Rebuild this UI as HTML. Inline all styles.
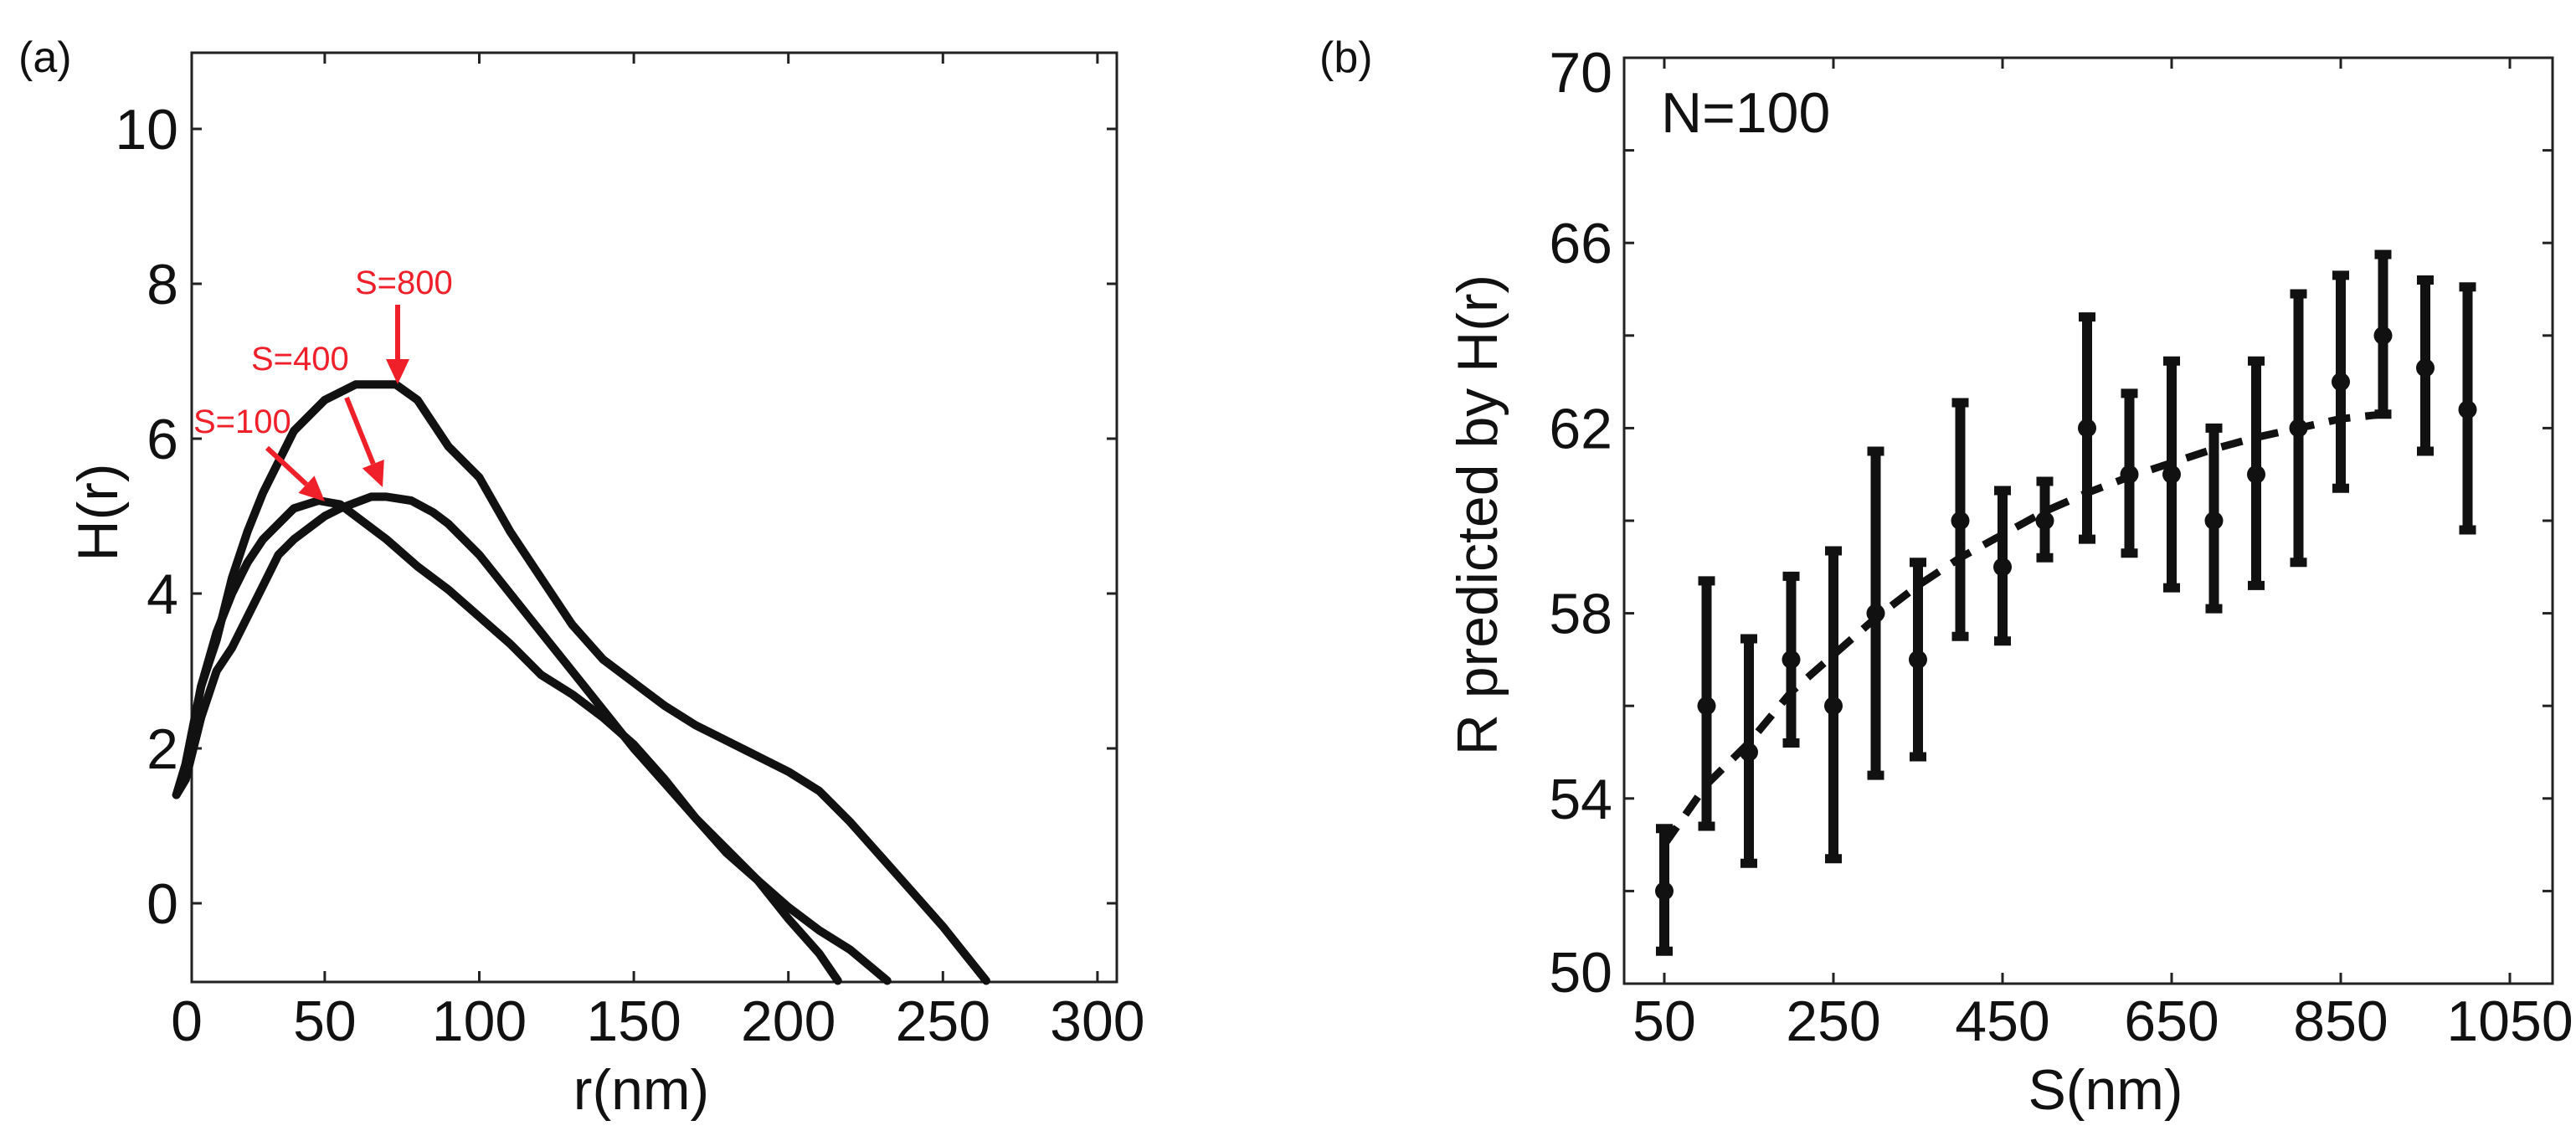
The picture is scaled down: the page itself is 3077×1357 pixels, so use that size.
<!DOCTYPE html>
<html><head><meta charset="utf-8"><style>
html,body{margin:0;padding:0;background:#fff}
svg{display:block;font-family:"Liberation Sans",Arial,sans-serif}
</style></head><body>
<svg id="fig" width="3077" height="1357" viewBox="0 0 3077 1357" xmlns="http://www.w3.org/2000/svg">
<rect width="3077" height="1357" fill="#fff"/>
<g id="pa"></g>
<g id="pb"></g>
</svg>
<script>
// Panel (a) data
const aXTicks = [50,100,150,200,250,300];
const aYTicks = [0,2,4,6,8,10];
const s100R = [2,5,10,15,20,25,30,40,48,55,60,70,80,90,100,110,120,130,140,150,160,170,180,190,200,210,216];
const s100H = [1.4,1.8,2.8,3.5,4.0,4.4,4.7,5.1,5.2,5.15,5.0,4.7,4.35,4.05,3.7,3.35,2.95,2.7,2.4,2.05,1.6,1.1,0.65,0.3,-0.2,-0.65,-1];
const s400R = [2,5,10,15,20,25,30,35,40,50,55,65,70,78,85,90,100,110,120,130,140,150,160,170,180,190,200,210,220,232];
const s400H = [1.4,1.6,2.4,3.0,3.3,3.7,4.1,4.5,4.7,5.0,5.1,5.25,5.25,5.2,5.05,4.9,4.5,4.0,3.5,3.0,2.5,2.0,1.55,1.1,0.7,0.3,-0.05,-0.35,-0.6,-1];
const s800R = [2,5,10,15,20,25,30,40,50,60,73,80,90,100,110,120,130,140,150,160,170,180,190,200,210,220,230,240,250,258,264];
const s800H = [1.4,1.8,2.8,3.4,4.2,4.8,5.3,6.1,6.5,6.7,6.7,6.5,5.9,5.5,4.8,4.2,3.6,3.15,2.85,2.55,2.3,2.1,1.9,1.7,1.45,1.05,0.6,0.15,-0.3,-0.7,-1];
// Panel (b) data
const bXTicks = [50,250,450,650,850,1050];
const bYTicks = [50,52,54,56,58,60,62,64,66,68,70];
const bYLabels = [50,54,58,62,66,70];
const bS = [50,100,150,200,250,300,350,400,450,500,550,600,650,700,750,800,850,900,950,1000];
const bR = [52,56,55,57,56,58,57,60,59,60,62,61,61,60,61,62,63,64,63.3,62.4];
const bHi = [53.35,58.7,57.45,58.8,59.35,61.5,59.1,62.55,60.65,60.85,64.4,62.75,63.45,62,63.45,64.9,65.3,65.75,65.2,65.05];
const bLo = [50.7,53.4,52.6,55.2,52.7,54.5,54.9,57.5,57.4,59.2,59.6,59.3,58.55,58.1,58.6,59.1,60.7,62.3,61.5,59.8];
const fitS = [50,100,150,200,250,300,350,400,450,500,550,600,650,700,750,800,850,900];
const fitR = [53.0,54.3,55.2,56.3,57.1,57.9,58.6,59.2,59.7,60.2,60.6,60.95,61.25,61.55,61.8,62.0,62.2,62.3];

const NS="http://www.w3.org/2000/svg";
function mk(parent,tag,attrs,text){const e=document.createElementNS(NS,tag);for(const k in attrs)e.setAttribute(k,attrs[k]);if(text!==undefined)e.textContent=text;parent.appendChild(e);return e;}
const FS=68;

// ---------- Panel A ----------
const pa=document.getElementById('pa');
const aL=229,aR=1334,aT=63,aB=1173;
const ax=v=>203.3+v*3.692;
const ay=v=>1079-v*92.5;
let e=mk(pa,'rect',{x:aL,y:aT,width:aR-aL,height:aB-aT,fill:'none',stroke:'#222','stroke-width':3});

aXTicks.forEach(t=>{const x=ax(t);
 mk(pa,'line',{x1:x,x2:x,y1:aB,y2:aB-13,stroke:'#222','stroke-width':3});
 mk(pa,'line',{x1:x,x2:x,y1:aT,y2:aT+13,stroke:'#222','stroke-width':3});
 e=mk(pa,'text',{x:x,y:1243,'font-size':FS,'text-anchor':'middle',fill:'#111'},String(t));
 
});
e=mk(pa,'text',{x:223,y:1243,'font-size':FS,'text-anchor':'middle',fill:'#111'},'0');

aYTicks.forEach(t=>{const y=ay(t);
 mk(pa,'line',{x1:aL,x2:aL+12,y1:y,y2:y,stroke:'#222','stroke-width':3});
 mk(pa,'line',{x1:aR,x2:aR-12,y1:y,y2:y,stroke:'#222','stroke-width':3});
 e=mk(pa,'text',{x:213,y:y+24,'font-size':FS,'text-anchor':'end',fill:'#111'},String(t));
 
});
e=mk(pa,'text',{x:766,y:1325,'font-size':FS,'text-anchor':'middle',fill:'#111'},'r(nm)');

e=mk(pa,'text',{x:0,y:0,'font-size':FS,'text-anchor':'middle',fill:'#111',transform:'translate(140,612) rotate(-90)'},'H(r)');

e=mk(pa,'text',{x:22,y:86,'font-size':52,fill:'#111'},'(a)');

[[s100R,s100H,'curve-s100'],[s400R,s400H,'curve-s400'],[s800R,s800H,'curve-s800']].forEach(([xs,ys,n])=>{
 const d=xs.map((v,i)=>(i?'L':'M')+ax(v).toFixed(1)+' '+ay(ys[i]).toFixed(1)).join(' ');
 const p=mk(pa,'path',{d:d,fill:'none',stroke:'#111','stroke-width':10,'stroke-linejoin':'round','stroke-linecap':'round'});
 
 
});
function arrow(x1,y1,x2,y2){
 const dx=x2-x1,dy=y2-y1,L=Math.hypot(dx,dy),ux=dx/L,uy=dy/L,h=30,w=14;
 const bx=x2-ux*h,by=y2-uy*h;
 mk(pa,'line',{x1:x1,y1:y1,x2:bx,y2:by,stroke:'#f0202a','stroke-width':6});
 mk(pa,'polygon',{points:`${x2},${y2} ${bx-uy*w},${by+ux*w} ${bx+uy*w},${by-ux*w}`,fill:'#f0202a'});
}
[['S=800',424,351,'label-s800'],['S=400',300,442,'label-s400'],['S=100',231,517,'label-s100']].forEach(([t,x,y,n])=>{
 const el=mk(pa,'text',{x:x,y:y,'font-size':40,fill:'#f0202a'},t);
 
 
});
arrow(475,364,475,459);arrow(414,475,457,582);arrow(319,535,388,599);

// ---------- Panel B ----------
const pb=document.getElementById('pb');
const bL=1940,bRt=3049,bT=69,bBt=1175;
const bx=v=>1988+(v-50)*1.01;
const by=v=>69+(70-v)*55.3;
e=mk(pb,'rect',{x:bL,y:bT,width:bRt-bL,height:bBt-bT,fill:'none',stroke:'#222','stroke-width':3});

bXTicks.forEach(t=>{const x=bx(t);
 mk(pb,'line',{x1:x,x2:x,y1:bBt,y2:bBt-13,stroke:'#222','stroke-width':3});
 mk(pb,'line',{x1:x,x2:x,y1:bT,y2:bT+13,stroke:'#222','stroke-width':3});
 e=mk(pb,'text',{x:x,y:1243,'font-size':FS,'text-anchor':'middle',fill:'#111'},String(t));
 
});
bYTicks.forEach(t=>{const y=by(t);
 mk(pb,'line',{x1:bL,x2:bL+12,y1:y,y2:y,stroke:'#222','stroke-width':3});
 mk(pb,'line',{x1:bRt,x2:bRt-12,y1:y,y2:y,stroke:'#222','stroke-width':3});
});
bYLabels.forEach(t=>{
 const yy=t===70?by(t)+41:(t===50?by(t)+10:by(t)+24);
 e=mk(pb,'text',{x:1926,y:yy,'font-size':FS,'text-anchor':'end',fill:'#111'},String(t));
 
});
e=mk(pb,'text',{x:2515,y:1325,'font-size':FS,'text-anchor':'middle',fill:'#111'},'S(nm)');

e=mk(pb,'text',{x:0,y:0,'font-size':FS,'text-anchor':'middle',fill:'#111',transform:'translate(1788,615) rotate(-90)'},'R predicted by H(r)');

e=mk(pb,'text',{x:1576,y:86,'font-size':52,fill:'#111'},'(b)');

e=mk(pb,'text',{x:1984,y:158,'font-size':FS,fill:'#111'},'N=100');

const fd=fitS.map((v,i)=>(i?'L':'M')+bx(v).toFixed(1)+' '+by(fitR[i]).toFixed(1)).join(' ');
e=mk(pb,'path',{d:fd,fill:'none',stroke:'#111','stroke-width':9,'stroke-dasharray':'26 18'});

bS.forEach((s,i)=>{
 const x=bx(s);
 const g=mk(pb,'g',{});
 
 
 mk(g,'line',{x1:x,x2:x,y1:by(bHi[i]),y2:by(bLo[i]),stroke:'#111','stroke-width':12});
 mk(g,'line',{x1:x-10,x2:x+10,y1:by(bHi[i]),y2:by(bHi[i]),stroke:'#111','stroke-width':11});
 mk(g,'line',{x1:x-10,x2:x+10,y1:by(bLo[i]),y2:by(bLo[i]),stroke:'#111','stroke-width':11});
 mk(g,'circle',{cx:x,cy:by(bR[i]),r:11,fill:'#111'});
});
</script>
</body></html>
